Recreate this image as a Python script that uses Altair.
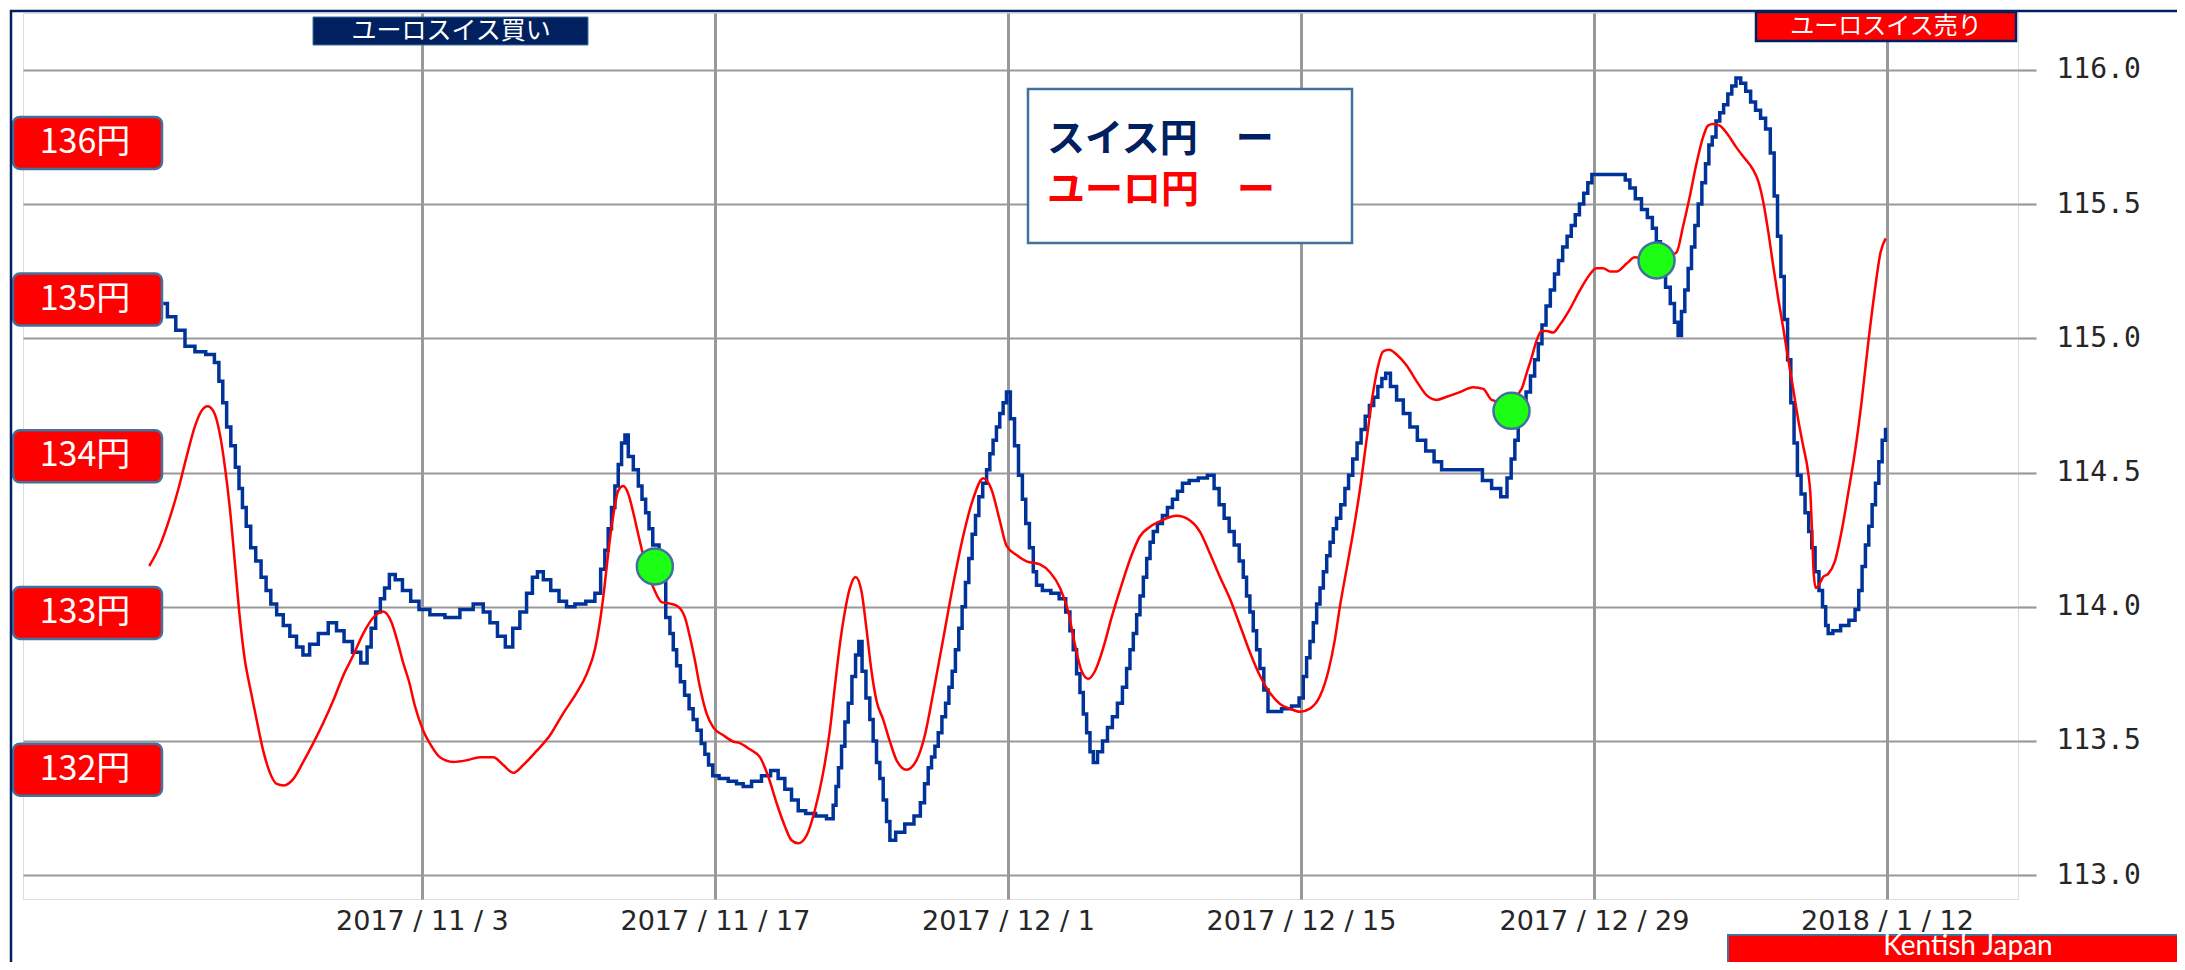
import altair as alt
import pandas as pd

# Time values are given as days since 2017-10-15 00:00 (local time).
BASE = "2017-10-15"

# スイス円 (CHF/JPY, right axis)
chf_day = [6.64, 7.04, 7.44, 7.92, 8.39, 8.95, 9.22, 9.38, 9.59, 9.75, 9.99, 10.18, 10.34, 10.51, 10.70,
           10.94, 11.18, 11.45, 11.66, 11.90, 12.22, 12.53, 12.85, 13.17, 13.46, 13.81, 14.29, 14.76, 15.08,
           15.48, 15.88, 16.28, 16.48, 16.67, 16.91, 17.12, 17.31, 17.58, 17.87, 18.27, 18.66, 19.06, 19.70,
           20.50, 21.13, 21.77, 22.09, 22.41, 22.81, 23.16, 23.52, 23.84, 24.16, 24.40, 24.64, 24.96, 25.35,
           25.75, 26.07, 26.55, 27.11, 27.42, 27.66, 27.82, 27.98, 28.14, 28.30, 28.46, 28.62, 28.78, 28.94,
           29.26, 29.42, 29.61, 29.77, 29.93, 30.13, 30.53, 30.77, 30.93, 31.09, 31.25, 31.45, 31.65, 31.88,
           32.04, 32.25, 32.44, 32.60, 32.79, 33.00, 33.40, 33.87, 34.19,
           34.51, 34.99, 35.46, 35.86, 36.18, 36.50, 36.82, 37.14, 37.53, 38.09, 38.57, 38.73, 38.84, 38.97,
           39.13, 39.29, 39.45, 39.64, 39.80, 39.95, 40.11, 40.32, 40.48, 40.64, 40.80, 40.96, 41.12, 41.28,
           41.44, 41.83, 42.31, 42.71, 42.92, 43.11, 43.27, 43.43, 43.59, 43.75, 43.94, 44.10, 44.26, 44.41,
           44.57, 44.73, 44.89, 45.05, 45.21, 45.37, 45.53, 45.69, 45.90, 46.06, 46.21, 46.37, 46.53, 46.69,
           46.85, 47.01, 47.22, 47.41, 47.60, 47.78, 47.92, 48.13, 48.29, 48.44,
           48.85, 49.25, 49.64, 49.88, 50.04, 50.20, 50.36, 50.52, 50.68, 50.84, 51.00, 51.16, 51.40, 51.64,
           51.87, 52.11, 52.35, 52.59, 52.75, 52.91, 53.07, 53.23, 53.39, 53.55, 53.71, 53.87, 54.02, 54.26,
           54.50, 54.74, 54.98, 55.22, 55.46, 55.86, 56.33, 56.73, 56.97, 57.21, 57.45, 57.69, 57.93, 58.17,
           58.32, 58.48, 58.64, 58.80, 58.96, 59.12, 59.33, 59.52, 59.84, 60.31, 60.79, 61.03, 61.19, 61.35,
           61.51, 61.67, 61.83, 61.99, 62.15, 62.31, 62.47, 62.62, 62.78,
           63.02, 63.18, 63.37, 63.58, 63.78, 63.97, 64.17, 64.37, 64.58, 64.77, 64.96, 65.14, 65.41, 65.73,
           66.05, 66.36, 66.76, 67.16, 67.56, 67.88, 68.59, 69.47, 69.87, 70.35, 70.74, 70.95, 71.14, 71.30,
           71.46, 71.65, 71.86, 72.07, 72.26, 72.42, 72.61, 72.81, 73.02, 73.21, 73.40, 73.61, 73.82, 74.01,
           74.20, 74.41, 74.61, 74.80, 75.00, 75.60, 76.40, 76.59, 76.84, 77.11,
           77.43, 77.67, 77.91, 78.05, 78.30, 78.54, 78.75, 78.94, 79.10, 79.26, 79.42, 79.58, 79.74, 79.90,
           80.06, 80.25, 80.41, 80.57, 80.73, 80.93, 81.09, 81.30, 81.49, 81.68, 81.89, 82.13, 82.37, 82.60,
           82.84, 83.08, 83.32, 83.53, 83.69, 83.85, 84.01, 84.17, 84.33, 84.48, 84.64, 84.80, 84.99, 85.18,
           85.34, 85.47, 85.66, 85.84, 86.00, 86.14, 86.24, 86.59, 86.98, 87.38, 87.57, 87.73, 87.89, 88.05,
           88.21, 88.37, 88.53, 88.69, 88.85, 89.01]
chf_val = [115.13, 115.08, 115.03, 114.97, 114.95, 114.94, 114.91, 114.84, 114.76, 114.67, 114.60, 114.52,
           114.44, 114.37, 114.30, 114.22, 114.17, 114.11, 114.06, 114.01, 113.97, 113.93, 113.89, 113.85,
           113.82, 113.86, 113.90, 113.94, 113.91, 113.87, 113.83, 113.79, 113.85, 113.92, 113.98, 114.03,
           114.07, 114.12, 114.10, 114.06, 114.02, 113.99, 113.97,
           113.96, 113.99, 114.01, 113.98, 113.94, 113.89, 113.85, 113.92, 113.98, 114.05, 114.11, 114.13,
           114.10, 114.06, 114.02, 114.00, 114.01, 114.02, 114.05, 114.14, 114.21, 114.29, 114.37, 114.45,
           114.53, 114.61, 114.64, 114.56, 114.51, 114.45, 114.40, 114.35, 114.29, 114.23, 114.12, 113.96,
           113.90, 113.84, 113.78, 113.72, 113.67, 113.62, 113.58, 113.54, 113.49, 113.45, 113.41, 113.37,
           113.36, 113.35, 113.34,
           113.33, 113.35, 113.37, 113.39, 113.36, 113.32, 113.28, 113.24, 113.23, 113.22, 113.21, 113.26,
           113.33, 113.40, 113.48, 113.57, 113.64, 113.74, 113.82, 113.87, 113.76, 113.66, 113.58, 113.50,
           113.42, 113.36, 113.28, 113.20, 113.13, 113.16, 113.19, 113.22, 113.27, 113.34, 113.40, 113.44,
           113.48, 113.53, 113.59, 113.64, 113.70, 113.76, 113.84, 113.92, 114.00, 114.09, 114.18, 114.27,
           114.34, 114.41, 114.46, 114.51, 114.57, 114.62, 114.67, 114.72, 114.76, 114.80, 114.70, 114.60,
           114.49, 114.40, 114.31, 114.22, 114.13, 114.08,
           114.06, 114.05, 114.03, 113.98, 113.91, 113.84, 113.75, 113.68, 113.60, 113.53, 113.46, 113.42,
           113.46, 113.50, 113.55, 113.59, 113.64, 113.70, 113.77, 113.84, 113.90, 113.97, 114.04, 114.11,
           114.18, 114.24, 114.28, 114.31, 114.34, 114.37, 114.40, 114.43, 114.46, 114.47, 114.48, 114.49,
           114.44, 114.38, 114.33, 114.28, 114.23, 114.17, 114.11, 114.04, 113.98, 113.91, 113.84, 113.77,
           113.69, 113.61, 113.61, 113.62, 113.63, 113.66, 113.74, 113.81, 113.87, 113.94, 114.01, 114.07,
           114.13, 114.19, 114.24, 114.29, 114.33,
           114.38, 114.44, 114.49, 114.55, 114.61, 114.66, 114.71, 114.75, 114.78, 114.82, 114.85, 114.87,
           114.82, 114.77, 114.72, 114.67, 114.62, 114.58, 114.54, 114.51, 114.51, 114.51, 114.47, 114.44,
           114.41, 114.48, 114.55, 114.62, 114.68, 114.74, 114.80, 114.86, 114.92, 114.98, 115.05, 115.12,
           115.18, 115.24, 115.29, 115.34, 115.38, 115.42, 115.46, 115.50, 115.54, 115.58, 115.61, 115.61,
           115.61, 115.59, 115.56, 115.52,
           115.48, 115.45, 115.41, 115.36, 115.26, 115.19, 115.13, 115.06, 115.01, 115.10, 115.18, 115.26,
           115.34, 115.42, 115.50, 115.58, 115.65, 115.72, 115.75, 115.81, 115.84, 115.87, 115.91, 115.94,
           115.97, 115.95, 115.92, 115.88, 115.85, 115.82, 115.78, 115.69, 115.53, 115.38, 115.23, 115.07,
           114.92, 114.76, 114.61, 114.49, 114.42, 114.35, 114.28, 114.22, 114.13, 114.06, 114.00, 113.93,
           113.90, 113.91, 113.93, 113.95, 113.99, 114.06, 114.15, 114.23, 114.30, 114.38, 114.46, 114.54,
           114.62, 114.66]

# ユーロ円 (EUR/JPY, left red labels)
eur_day = [5.97, 6.48, 6.96, 7.36, 7.76, 8.15, 8.47, 8.76, 9.03, 9.35, 9.59, 9.83, 10.07, 10.30, 10.54,
           10.78, 11.10, 11.42, 11.74, 12.06, 12.41, 12.85, 13.33, 13.81, 14.29, 14.76, 15.24, 15.72, 16.20,
           16.67, 17.15, 17.55, 17.87, 18.11, 18.39, 18.66, 19.06, 19.46, 19.86, 20.50, 21.13, 21.77, 22.41,
           22.89, 23.36, 23.84, 24.48, 25.12, 25.75, 26.39, 26.87, 27.27, 27.50, 27.70, 27.90, 28.14, 28.38,
           28.62, 28.86, 29.10, 29.34, 29.57, 29.81, 30.13, 30.45, 30.85, 31.25, 31.57, 31.80, 32.04, 32.28,
           32.60, 32.92, 33.40, 33.87, 34.19, 34.67, 35.15, 35.54, 35.94, 36.34, 36.66, 36.98, 37.38, 37.77,
           38.17, 38.49, 38.73, 38.97, 39.21, 39.45, 39.72, 40.00, 40.24, 40.48, 40.72, 41.04, 41.36, 41.68,
           42.15, 42.63, 43.03, 43.43, 43.90, 44.38, 44.86, 45.34, 45.82, 46.21, 46.61, 46.93, 47.41, 47.89,
           48.53, 49.01, 49.49, 49.88, 50.20, 50.52, 50.84, 51.16, 51.56, 51.95, 52.43, 52.91, 53.31, 53.79,
           54.34, 55.06, 55.70, 56.17, 56.65, 57.13, 57.61, 58.09, 58.56, 59.04, 59.52, 60.00, 60.47, 60.95,
           61.43, 61.91, 62.31, 62.62, 62.86, 63.18, 63.50, 63.82, 64.13, 64.45, 64.69, 64.93, 65.22, 65.57,
           66.05, 66.52, 67.00, 67.48, 67.96, 68.59, 69.23, 69.71, 70.11, 70.80, 71.54, 71.78, 72.02, 72.26,
           72.50, 72.73, 73.05, 73.37, 73.85, 74.33, 74.80, 75.12, 75.44, 75.76, 76.08, 76.56, 76.95, 77.91,
           78.94, 79.26, 79.58, 79.90, 80.22, 80.45, 80.69, 81.01, 81.41, 81.81, 82.21, 82.60, 82.84, 83.08,
           83.32, 83.56, 83.80, 84.04, 84.28, 84.52, 84.75, 84.99, 85.23, 85.34, 85.42, 85.50, 85.60, 85.79,
           85.95, 86.19, 86.51, 86.83, 87.14, 87.46, 87.78, 88.10, 88.42, 88.69, 88.94]
eur_val = [133.30, 133.43, 133.61, 133.79, 134.00, 134.19, 134.29, 134.32, 134.29, 134.14, 133.93, 133.66,
           133.31, 132.97, 132.70, 132.53, 132.32, 132.12, 131.98, 131.91, 131.90, 131.94, 132.05, 132.17,
           132.30, 132.44, 132.60, 132.73, 132.87, 132.97, 133.01, 132.94, 132.80, 132.68, 132.56, 132.41,
           132.25, 132.15, 132.08, 132.05, 132.06, 132.08, 132.08, 132.03, 131.98, 132.03, 132.12, 132.22,
           132.36, 132.49, 132.61, 132.77, 132.94, 133.14, 133.38, 133.62, 133.78, 133.81, 133.76, 133.64,
           133.50, 133.37, 133.25, 133.14, 133.07, 133.06, 133.04, 132.97, 132.85, 132.70, 132.53, 132.36,
           132.27, 132.22, 132.18, 132.17, 132.13, 132.08, 131.96, 131.79, 131.64, 131.55, 131.53, 131.58,
           131.74, 131.98, 132.25, 132.53, 132.80, 133.01, 133.16, 133.23, 133.14, 132.90, 132.63, 132.44,
           132.32, 132.18, 132.06, 132.00, 132.06, 132.22, 132.49, 132.83, 133.18, 133.49, 133.73, 133.86,
           133.79, 133.59, 133.43, 133.37, 133.33, 133.31, 133.26, 133.16, 133.01, 132.80, 132.63, 132.58,
           132.63, 132.78, 132.97, 133.18, 133.37, 133.49, 133.55, 133.59, 133.62, 133.59, 133.52, 133.38,
           133.23, 133.09, 132.92, 132.75, 132.60, 132.49, 132.42, 132.39, 132.37, 132.39, 132.47, 132.63,
           132.83, 133.04, 133.28, 133.52, 133.79, 134.10, 134.41, 134.58, 134.67, 134.68, 134.65, 134.58,
           134.48, 134.39, 134.36, 134.38, 134.41, 134.44, 134.43, 134.36, 134.34, 134.43, 134.53, 134.63,
           134.74, 134.80, 134.80, 134.79, 134.84, 134.94, 135.06, 135.16, 135.20, 135.20, 135.18, 135.18,
           135.23, 135.27, 135.25, 135.30, 135.47, 135.66, 135.87, 136.04, 136.11, 136.12, 136.11, 136.05,
           135.97, 135.90, 135.83, 135.76, 135.63, 135.44, 135.22, 135.01, 134.82, 134.62, 134.43, 134.24,
           134.07, 133.90, 133.76, 133.52, 133.25, 133.16, 133.19, 133.23, 133.25, 133.33, 133.52, 133.76,
           134.02, 134.34, 134.72, 135.06, 135.30, 135.39]

# green signal dots (on the CHF/JPY line)
sig_day = [30.13, 71.06, 77.99]
sig_val = [114.15, 114.73, 115.29]

eur_ticks = [136, 135, 134, 133, 132]
chf_ticks = [113.0, 113.5, 114.0, 114.5, 115.0, 115.5, 116.0]
x_ticks = ["2017-11-03", "2017-11-17", "2017-12-01", "2017-12-15", "2017-12-29", "2018-01-12"]

legend_texts = ["スイス円　ー", "ユーロ円　ー"]
buy_text = "ユーロスイス買い"
sell_text = "ユーロスイス売り"
brand_text = "Kentish Japan"

NAVY = "#002060"
RED = "#FF0000"
BLUE = "#003399"
GRID = "#999999"
EDGE = "#41719C"
GREEN = "#1CFF14"


def to_time(days):
    return (pd.Timestamp(BASE) + pd.to_timedelta(days, unit="D")).round("s")


chf_df = pd.DataFrame({"t": to_time(chf_day), "chf": chf_val})
eur_df = pd.DataFrame({"t": to_time(eur_day), "eur": eur_val})
sig_df = pd.DataFrame({"t": to_time(sig_day), "chf": sig_val})
box_df = pd.DataFrame({"eur": eur_ticks, "label": [f"{v}円" for v in eur_ticks]})
one = pd.DataFrame({"k": [0]})


def dt(s):
    y, m, d = (int(p) for p in s.split("-"))
    return alt.DateTime(year=y, month=m, date=d)


x_scale = alt.Scale(
    domain=[alt.DateTime(year=2017, month=10, date=14, hours=22, minutes=34),
            alt.DateTime(year=2018, month=1, date=18, hours=6, minutes=14)],
    nice=False,
)
x_axis = alt.Axis(
    values=[dt(s) for s in x_ticks], grid=True, gridColor=GRID, gridWidth=3,
    ticks=False, domain=False, title=None,
    labelExpr="timeFormat(datum.value, '%Y / %-m / %-d')",
    labelFontSize=27, labelFont="DejaVu Sans", labelColor="#262626",
    labelPadding=9, labelOverlap=False, labelFlush=False, labelLimit=0,
)
x_enc = alt.X("t:T", scale=x_scale, axis=x_axis)

chf_scale = alt.Scale(domain=[112.911, 116.212], nice=False, zero=False)
eur_scale = alt.Scale(domain=[131.175, 136.829], nice=False, zero=False)
y_axis = alt.Axis(
    orient="right", values=chf_ticks, format=".1f", grid=True, gridColor=GRID,
    gridWidth=2.2, tickSize=18, tickColor=GRID, tickWidth=2.2, domain=False,
    labelFontSize=28, labelFont="DejaVu Sans Mono", labelColor="#262626",
    labelPadding=20, title=None, labelLimit=0,
)

# legend box
legend_box = alt.Chart(one).mark_rect(fill="white", stroke=EDGE, strokeWidth=2.5).encode(
    x=alt.value(1005), x2=alt.value(1329), y=alt.value(76), y2=alt.value(230))
legend_t1 = alt.Chart(one).mark_text(
    text=legend_texts[0], font="Noto Sans CJK JP", fontWeight="bold", fontSize=38,
    color=NAVY, align="left", baseline="middle").encode(x=alt.value(1024), y=alt.value(127))
legend_t2 = alt.Chart(one).mark_text(
    text=legend_texts[1], font="Noto Sans CJK JP", fontWeight="bold", fontSize=38,
    color=RED, align="left", baseline="middle").encode(x=alt.value(1024), y=alt.value(178))

eur_line = alt.Chart(eur_df).mark_line(color=RED, strokeWidth=2.5, interpolate="monotone").encode(
    x=x_enc, y=alt.Y("eur:Q", scale=eur_scale, axis=None))

chf_line = alt.Chart(chf_df).mark_line(color=BLUE, strokeWidth=3.5, interpolate="step").encode(
    x=x_enc, y=alt.Y("chf:Q", scale=chf_scale, axis=y_axis))

dots = alt.Chart(sig_df).mark_circle(size=1300, color=GREEN, opacity=1, stroke=EDGE, strokeWidth=2.5).encode(
    x=x_enc, y=alt.Y("chf:Q", scale=chf_scale, axis=None))

eur_boxes = alt.Chart(box_df).transform_calculate(
    top="datum.eur + 0.166", bot="datum.eur - 0.166"
).mark_rect(fill=RED, stroke=EDGE, strokeWidth=2.5, cornerRadius=7).encode(
    x=alt.value(-10), x2=alt.value(139),
    y=alt.Y("top:Q", scale=eur_scale, axis=None), y2="bot:Q")
eur_labels = alt.Chart(box_df).mark_text(
    font="Noto Sans CJK JP", fontSize=34, color="white", align="center", baseline="middle").encode(
    x=alt.value(62), y=alt.Y("eur:Q", scale=eur_scale, axis=None), text="label:N")

buy_box = alt.Chart(one).mark_rect(fill=NAVY, stroke=EDGE, strokeWidth=1).encode(
    x=alt.value(290), x2=alt.value(565), y=alt.value(4), y2=alt.value(32))
buy_t = alt.Chart(one).mark_text(text=buy_text, font="Noto Sans CJK JP", fontSize=25, color="white",
                                 align="center", baseline="middle").encode(x=alt.value(428), y=alt.value(18))
sell_box = alt.Chart(one).mark_rect(fill=RED, stroke=NAVY, strokeWidth=2.5).encode(
    x=alt.value(1733), x2=alt.value(1993), y=alt.value(-1), y2=alt.value(28))
sell_t = alt.Chart(one).mark_text(text=sell_text, font="Noto Sans CJK JP", fontSize=24, color="white",
                                  align="center", baseline="middle").encode(x=alt.value(1863), y=alt.value(14))
brand_box = alt.Chart(one).mark_rect(fill=RED, stroke=EDGE, strokeWidth=2).encode(
    x=alt.value(1705), x2=alt.value(2300), y=alt.value(922), y2=alt.value(1100))
brand_t = alt.Chart(one).mark_text(text=brand_text, font="Lato", fontSize=28, color="white",
                                   align="center", baseline="alphabetic").encode(x=alt.value(1945), y=alt.value(942))
frame = alt.Chart(one).mark_rect(fill="white", fillOpacity=0, stroke=NAVY, strokeWidth=2.5).encode(
    x=alt.value(-12), x2=alt.value(3000), y=alt.value(-2), y2=alt.value(3000))

chart = alt.layer(
    chf_line, legend_box, legend_t1, legend_t2, eur_line, dots,
    eur_boxes, eur_labels, buy_box, buy_t, sell_box, sell_t, brand_box, brand_t, frame,
).resolve_scale(y="independent").properties(
    width=1995, height=886,
    padding={"left": 15, "top": 5, "right": 159, "bottom": 63},
    autosize=alt.AutoSizeParams(type="none"),
).configure_view(stroke=GRID, strokeWidth=3).configure(background="white")

chart.save("out.html", embed_options={"renderer": "svg", "actions": False})
